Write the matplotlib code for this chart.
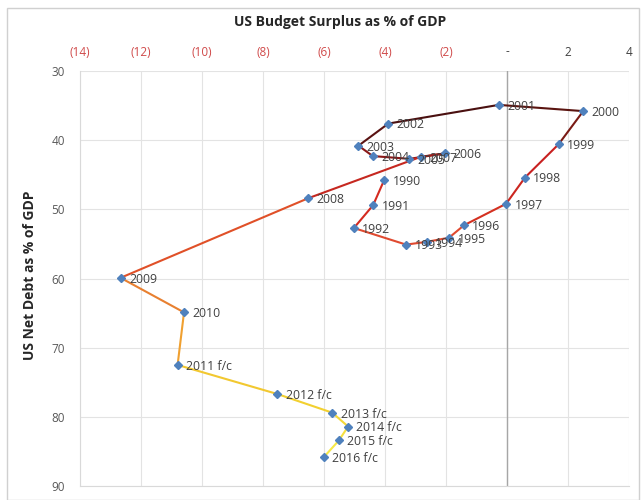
import matplotlib
matplotlib.use("Agg")
import matplotlib.pyplot as plt
from matplotlib.patches import Rectangle

years = ["1990", "1991", "1992", "1993", "1994", "1995", "1996", "1997", "1998", "1999",
         "2000", "2001", "2002", "2003", "2004", "2005", "2006", "2007", "2008", "2009",
         "2010", "2011 f/c", "2012 f/c", "2013 f/c", "2014 f/c", "2015 f/c", "2016 f/c"]
surplus = [-4.03, -4.39, -5.02, -3.31, -2.63, -1.90, -1.41, -0.03, 0.59, 1.69,
           2.50, -0.27, -3.89, -4.87, -4.40, -3.20, -2.02, -2.82, -6.52, -12.67,
           -10.59, -10.80, -7.53, -5.73, -5.21, -5.51, -6.00]
net_debt = [45.8, 49.4, 52.7, 55.1, 54.7, 54.1, 52.3, 49.2, 45.4, 40.6,
            35.8, 34.9, 37.6, 40.8, 42.3, 42.7, 41.9, 42.4, 48.4, 59.9,
            64.9, 72.5, 76.7, 79.4, 81.4, 83.4, 85.8]

x_ticks = [-14, -12, -10, -8, -6, -4, -2, 0, 2, 4]
y_ticks = [30, 40, 50, 60, 70, 80, 90]

seg_colors = ["#d42a20", "#d42a20", "#e04a30", "#e04a30", "#e04a30", "#e04a30", "#d43020",
              "#cc2620", "#c82020", "#7a1a14", "#5a1410", "#4a1010", "#5a1212", "#8a1818",
              "#8a1818", "#901a18", "#a01c1a", "#c62820", "#e05028", "#e88030", "#f0a030",
              "#f2c830", "#f2d030", "#f4d838", "#f5e040", "#f5e848"]

plt.rcParams['font.family'] = ['Open Sans', 'DejaVu Sans']

fig = plt.figure(figsize=(6.41, 5.0), dpi=100)
fig.patches.append(Rectangle((7/641, 0), 632/641, 492/500, transform=fig.transFigure,
                             fill=False, edgecolor="#d0d0d0", lw=1.0))
ax = fig.add_axes([80/641, 14/500, 549/641, 415/500])

ax.set_xlim(-14, 4)
ax.set_ylim(90, 30)
ax.set_xticks(x_ticks)
ax.set_yticks(y_ticks)
ax.grid(True, color="#e3e3e3", lw=0.8)
ax.set_axisbelow(True)
for s in ["top", "right"]:
    ax.spines[s].set_visible(False)
ax.spines["left"].set_color("#d9d9d9")
ax.spines["bottom"].set_color("#d9d9d9")
ax.axvline(0, color="#a6a6a6", lw=1.0, zorder=1)

ax.xaxis.tick_top()
ax.tick_params(axis="both", length=0, labelsize=8.5, colors="#595959")
ax.tick_params(axis="x", pad=9)
ax.tick_params(axis="y", pad=11)

def fmt(v):
    if v < 0:
        return "(%d)" % (-v)
    if v == 0:
        return "-"
    return "%d" % v

ax.set_xticklabels([fmt(v) for v in x_ticks])
for lab, v in zip(ax.get_xticklabels(), x_ticks):
    lab.set_color("#d04a4a" if v < 0 else "#404040")

for i in range(len(surplus) - 1):
    ax.plot(surplus[i:i + 2], net_debt[i:i + 2], color=seg_colors[i], lw=1.5,
            solid_capstyle="round", zorder=2)
ax.plot(surplus, net_debt, linestyle="none", marker="D", markersize=4,
        color="#4f81bd", zorder=3)

for x, y, t in zip(surplus, net_debt, years):
    ax.annotate(t, (x, y), xytext=(6, -1), textcoords="offset points",
                va="center", ha="left", fontsize=8.8, color="#404040", zorder=4)

fig.text(340/641, 1 - 22/500, "US Budget Surplus as % of GDP", ha="center", va="center",
         fontsize=10, fontweight="bold", color="#262626")
fig.text(30/641, 1 - 275/500, "US Net Debt as % of GDP", ha="center", va="center",
         rotation=90, fontsize=10, fontweight="bold", color="#262626")

fig.savefig("out.png", dpi=100)
